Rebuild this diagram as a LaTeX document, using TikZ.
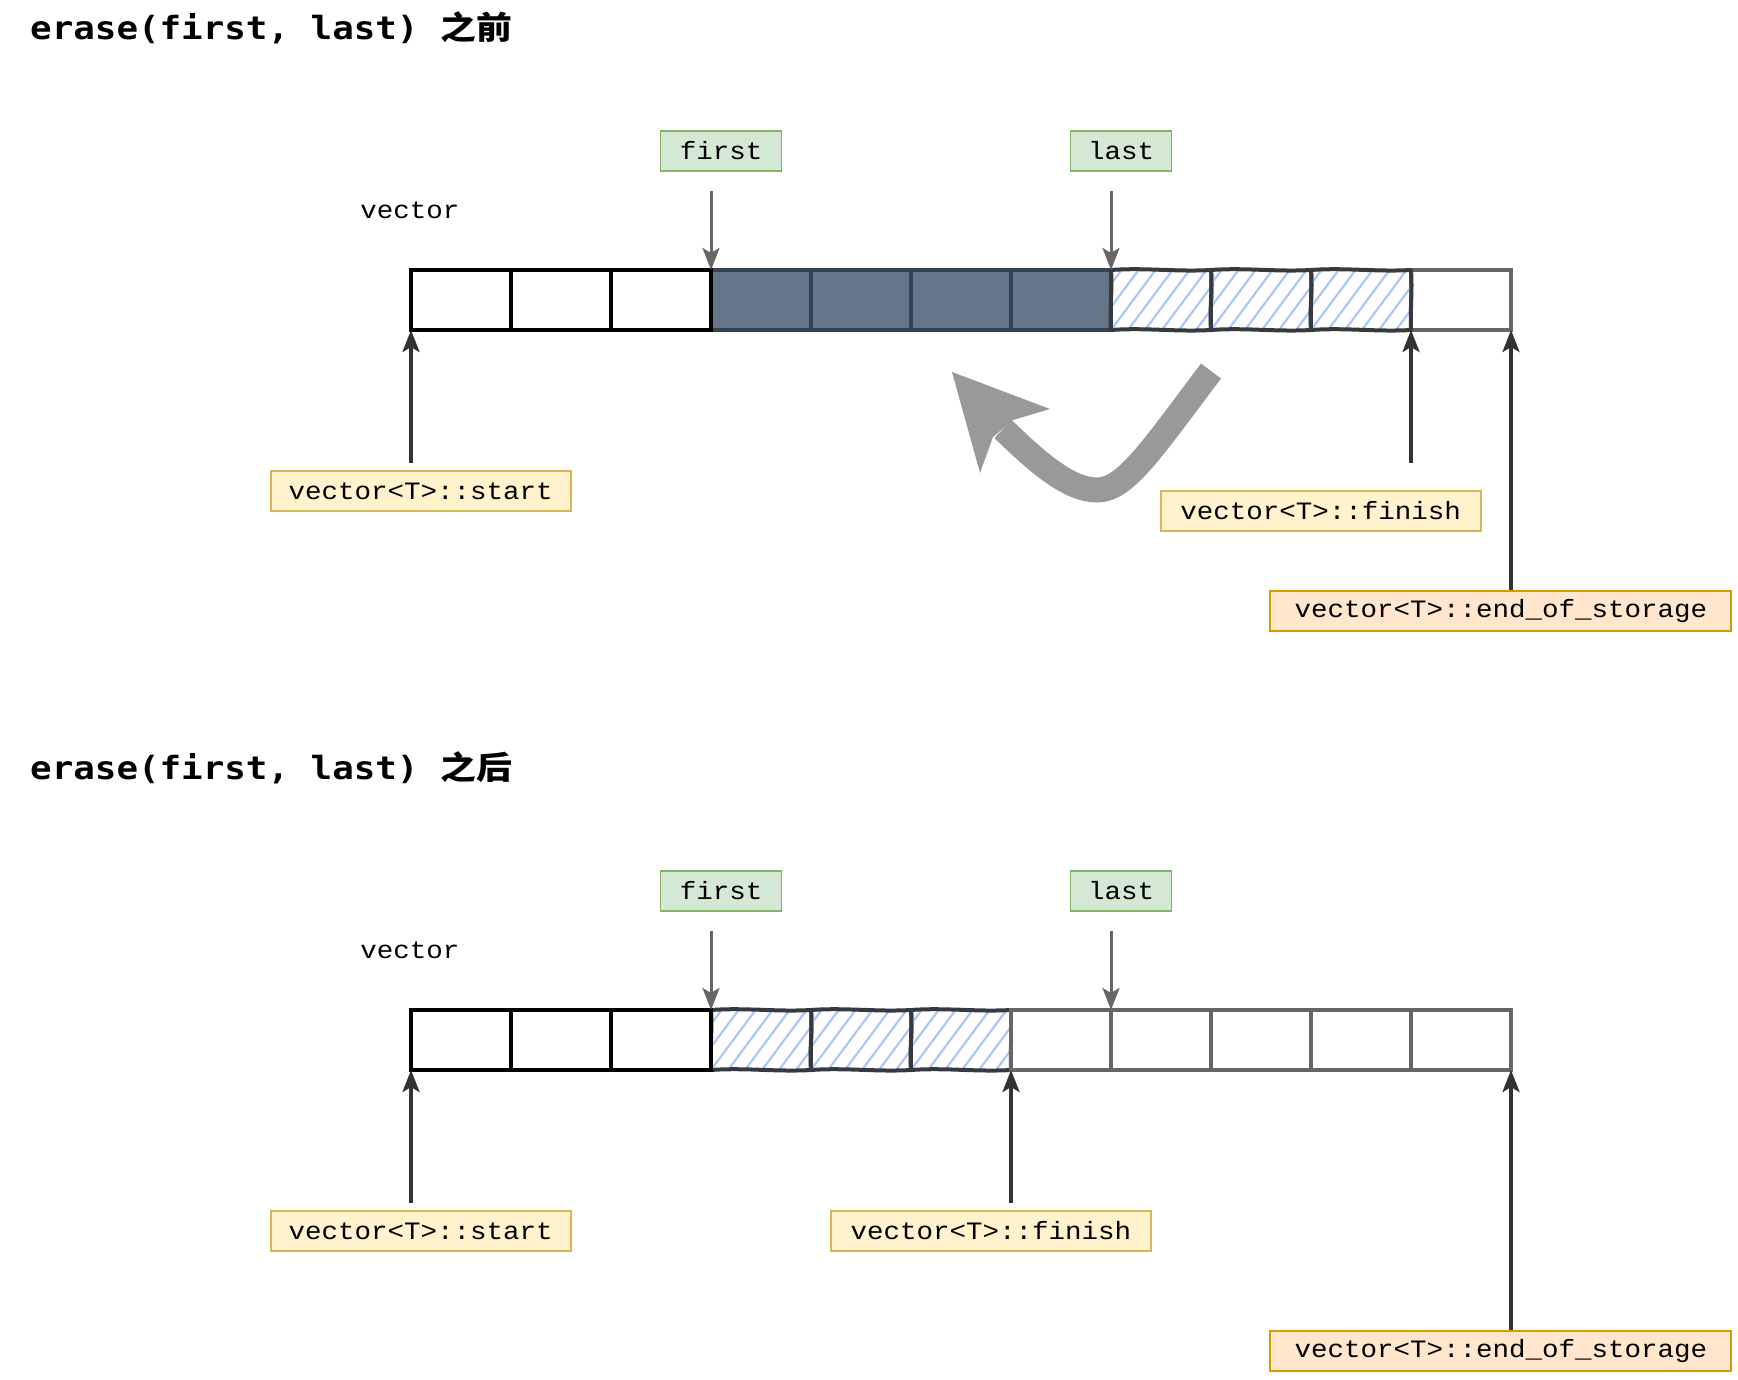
\documentclass[tikz,border=0pt]{standalone}
\usepackage{fontspec}
\setmonofont{Liberation Mono}[FakeStretch=1.1]
\newfontfamily\titlefont{DejaVu Sans Mono}[FakeStretch=1.12]
\newfontfamily\cjk{Noto Sans CJK SC}[FakeStretch=1.12]
\usetikzlibrary{arrows.meta}
\definecolor{darkfill}{HTML}{647687}
\definecolor{darkline}{HTML}{314354}
\definecolor{sketchline}{HTML}{36393D}
\definecolor{hatchcol}{HTML}{A9C8F8}
\definecolor{grayline}{HTML}{666666}
\definecolor{ptrcol}{HTML}{333333}
\definecolor{greenfill}{HTML}{D5E8D4}
\definecolor{greenline}{HTML}{82B366}
\definecolor{yelfill}{HTML}{FFF2CC}
\definecolor{yelline}{HTML}{D6B656}
\definecolor{orfill}{HTML}{FFE6CC}
\definecolor{orline}{HTML}{D79B00}
\definecolor{bigarrow}{HTML}{999999}
\begin{document}
\begin{tikzpicture}[x=1pt,y=-1pt,
  title/.style={font=\titlefont\bfseries\fontsize{32}{37}\selectfont, inner sep=0pt, anchor=west},
  txt/.style={font=\ttfamily\fontsize{25}{29}\selectfont, inner sep=0pt},
  cell/.style={minimum width=100pt, minimum height=60pt, inner sep=0pt, outer sep=0pt, line width=3.6pt},
  blackcell/.style={cell, draw=black, fill=white},
  graycell/.style={cell, draw=grayline, fill=white},
  darkcell/.style={cell, draw=darkline, fill=darkfill},
  hatchcell/.style={cell, path picture={
      \foreach \k in {-4,...,6}{\draw[hatchcol, line width=2.2pt]
        ([xshift=\k*17pt]path picture bounding box.south west) -- ++(52pt,70pt);}}},
  sketch/.style={draw=sketchline, line width=4pt, line join=round},
  lab/.style={txt, minimum height=40pt, line width=1.8pt},
  greenlab/.style={lab, draw=greenline, fill=greenfill},
  yellab/.style={lab, draw=yelline, fill=yelfill},
  orlab/.style={lab, draw=orline, fill=orfill},
  lightptr/.style={draw=grayline, line width=3pt, -{Stealth[length=22pt,width=17pt,inset=5pt]}},
  darkptr/.style={draw=ptrcol, line width=3.6pt, -{Stealth[length=22pt,width=17pt,inset=5pt]}}
]
\useasboundingbox (0,0) rectangle (1738,1380);

% ---------- titles ----------
\node[title] (t1) at (30,28) {erase(first, last) {\cjk 之前}};
\node[title] (t2) at (30,768) {erase(first, last) {\cjk 之后}};

% ---------- top row ----------
\node[graycell] (a11) at (1461,300) {};
\foreach \i in {4,...,7}{\node[darkcell] (a\i) at (361+100*\i,300) {};}
\foreach \i in {8,...,10}{\node[hatchcell] (a\i) at (361+100*\i,300) {};
  \draw[sketch] (a\i.north west) .. controls +(35,-2.5) and +(-35,2) .. (a\i.north east)
     .. controls +(1.5,20) and +(-1,-20) .. (a\i.south east)
     .. controls +(-35,2) and +(35,-2.5) .. (a\i.south west)
     .. controls +(-1.5,-20) and +(1.5,20) .. cycle;}
\foreach \i in {1,...,3}{\node[blackcell] (a\i) at (361+100*\i,300) {};}

\node[txt] (v1) at (410,210.6) {vector};
\node[greenlab, minimum width=121pt] (f1) at (721,150.7) {first};
\node[greenlab, minimum width=101pt] (l1) at (1121,150.7) {last};
\coordinate (f1a) at (711,191);
\coordinate (l1a) at (1111,191);
\draw[lightptr] (f1a) -- (a4.north west);
\draw[lightptr] (l1a) -- (a8.north west);

\node[yellab, minimum width=300pt] (s1) at (420.6,491) {vector<T>::start};
\node[yellab, minimum width=320pt] (fi1) at (1320.6,511) {vector<T>::finish};
\node[orlab, minimum width=461pt] (e1) at (1500.8,610.7) {vector<T>::end\_of\_storage};
\coordinate (s1a) at (411,463);
\coordinate (fi1a) at (1411,463);
\draw[darkptr] (s1a) -- (a1.south west);
\draw[darkptr] (fi1a) -- (a10.south east);
\draw[darkptr] (a11.south east |- e1.north) -- (a11.south east);

% big curved arrow
\draw[bigarrow, line width=25pt] (1211,371) .. controls (1150,452) and (1125,490) .. (1097,490)
   .. controls (1068,490) and (1035,460) .. (1003,429);
\fill[bigarrow] (952,372) -- (1050,409) -- (1013,420) -- (993,437) -- (980,473) -- cycle;

% ---------- bottom row ----------
\foreach \i in {4,...,6}{\node[hatchcell] (b\i) at (361+100*\i,1040) {};
  \draw[sketch] (b\i.north west) .. controls +(35,-2.5) and +(-35,2) .. (b\i.north east)
     .. controls +(1.5,20) and +(-1,-20) .. (b\i.south east)
     .. controls +(-35,2) and +(35,-2.5) .. (b\i.south west)
     .. controls +(-1.5,-20) and +(1.5,20) .. cycle;}
\foreach \i in {7,...,11}{\node[graycell] (b\i) at (361+100*\i,1040) {};}
\foreach \i in {1,...,3}{\node[blackcell] (b\i) at (361+100*\i,1040) {};}

\node[txt] (v2) at (410,950.6) {vector};
\node[greenlab, minimum width=121pt] (f2) at (721,890.7) {first};
\node[greenlab, minimum width=101pt] (l2) at (1121,890.7) {last};
\coordinate (f2a) at (711,931);
\coordinate (l2a) at (1111,931);
\draw[lightptr] (f2a) -- (b4.north west);
\draw[lightptr] (l2a) -- (b8.north west);

\node[yellab, minimum width=300pt] (s2) at (420.6,1231) {vector<T>::start};
\node[yellab, minimum width=320pt] (fi2) at (990.9,1231) {vector<T>::finish};
\node[orlab, minimum width=461pt] (e2) at (1500.8,1350.7) {vector<T>::end\_of\_storage};
\coordinate (s2a) at (411,1203);
\coordinate (fi2a) at (1011,1203);
\draw[darkptr] (s2a) -- (b1.south west);
\draw[darkptr] (fi2a) -- (b6.south east);
\draw[darkptr] (b11.south east |- e2.north) -- (b11.south east);
\end{tikzpicture}
\end{document}
